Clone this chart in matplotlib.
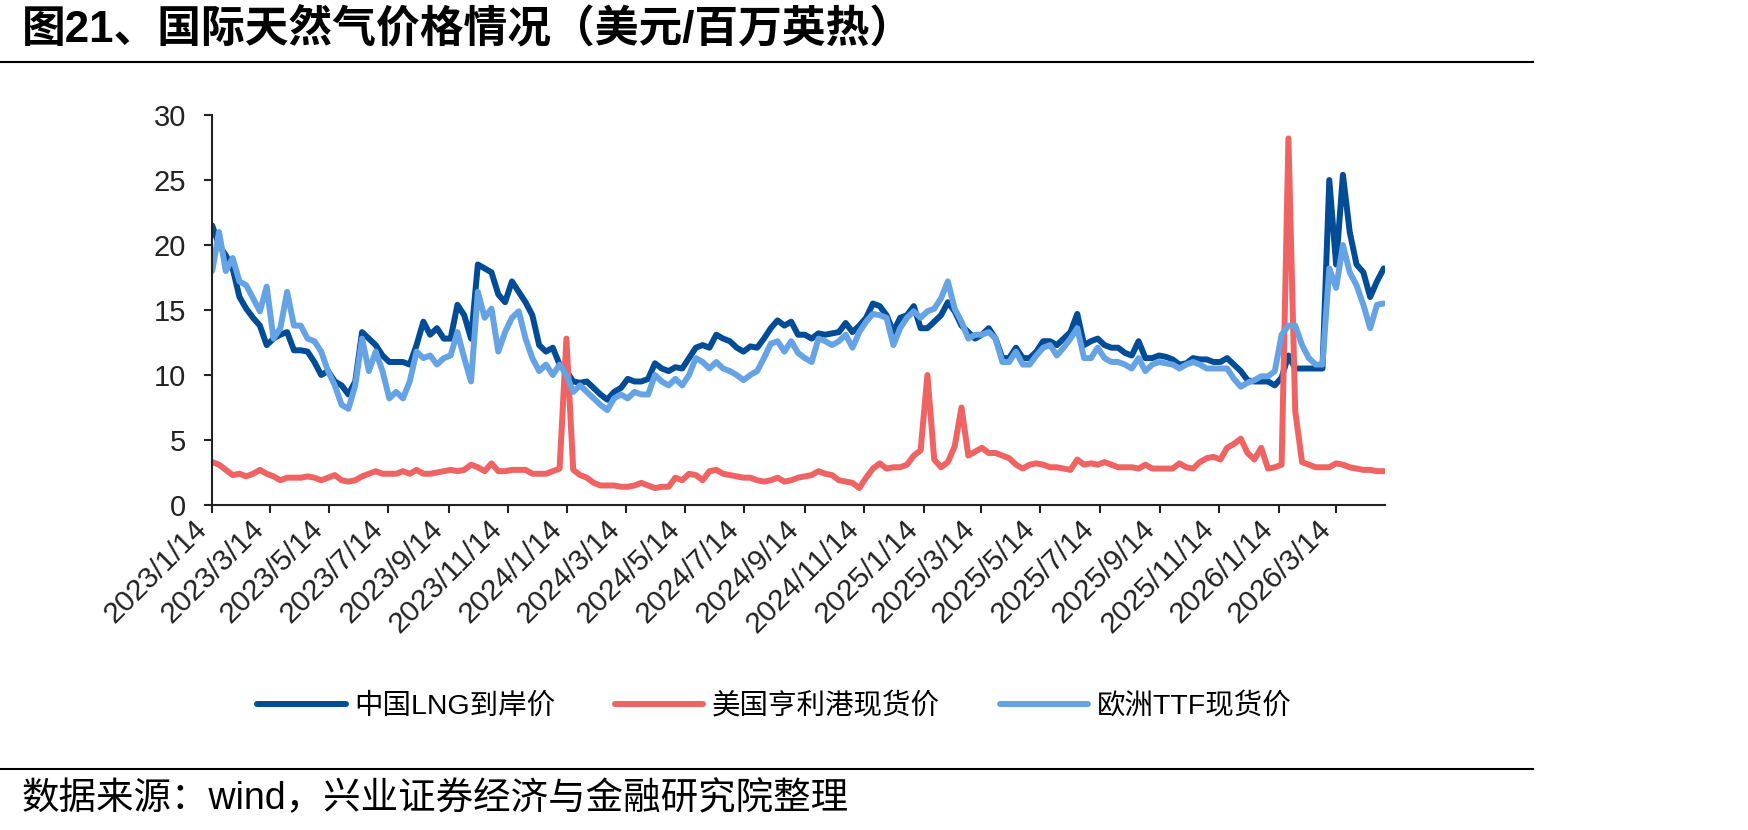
import matplotlib
matplotlib.use("Agg")
import matplotlib.pyplot as plt
import matplotlib.dates as mdates
from matplotlib.lines import Line2D
from matplotlib.ticker import FuncFormatter
import pandas as pd

plt.rcParams["font.family"] = ["Liberation Sans", "Noto Sans CJK SC"]

# weekly observations starting 2023/1/14
start_date = "2023-01-14"
n_weeks = 173

lng_china = [
    21.5, 20.0, 19.2, 18.2, 16.0, 15.1, 14.4, 13.8, 12.3, 12.8, 13.1, 13.3, 11.9, 11.9, 11.8, 11.0, 10.0, 10.3, 9.5, 9.2,
    8.5, 9.5, 13.3, 12.8, 12.3, 11.5, 11.0, 11.0, 11.0, 10.8, 12.3, 14.1, 13.1, 13.6, 12.8,
    12.8, 15.4, 14.6, 12.8, 18.5, 18.2, 17.9, 16.2, 15.6, 17.2, 16.4, 15.6, 14.6, 12.3, 11.8, 12.1, 10.8, 10.3, 9.5, 9.4,
    9.5, 9.0, 8.5, 8.1, 8.7, 9.0, 9.7, 9.5, 9.5, 9.7, 10.9, 10.5, 10.3, 10.6,
    10.5, 11.3, 12.1, 12.3, 12.1, 13.1, 12.8, 12.6, 12.1, 11.8, 12.2, 12.1, 12.8, 13.6, 14.2, 13.8, 14.1, 13.1, 13.1, 12.8,
    13.2, 13.1, 13.2, 13.3, 14.0, 13.3, 13.8, 14.4, 15.5, 15.3, 14.6, 13.3, 14.4, 14.6, 15.3,
    13.6, 13.6, 14.1, 14.6, 15.6, 14.9, 13.8, 13.3, 12.8, 13.1, 13.6, 12.8, 11.3, 11.3, 12.1, 11.3, 11.3, 11.8, 12.6, 12.6,
    12.3, 12.8, 13.3, 14.7, 12.3, 12.6, 12.8, 12.3, 12.1, 12.1, 11.7, 11.5, 12.6, 11.3,
    11.3, 11.5, 11.4, 11.2, 10.8, 10.9, 11.3, 11.2, 11.2, 11.0, 11.0, 11.3, 10.8, 10.3, 9.6, 9.5, 9.5, 9.5, 9.2, 9.8,
    11.5, 10.5, 10.5, 10.5, 10.5, 10.5, 25.0, 18.5, 25.4, 21.0, 18.5, 17.9, 16.0, 17.2, 18.2,
]

hh_us = [
    3.3, 3.1, 2.7, 2.3, 2.4, 2.2, 2.4, 2.7, 2.4, 2.2, 1.9, 2.1, 2.1, 2.1, 2.2, 2.1, 1.9, 2.1, 2.3, 1.9,
    1.8, 1.9, 2.2, 2.4, 2.6, 2.4, 2.4, 2.4, 2.6, 2.4, 2.7, 2.4, 2.4, 2.5, 2.6,
    2.7, 2.6, 2.7, 3.1, 2.9, 2.6, 3.2, 2.6, 2.6, 2.7, 2.7, 2.7, 2.4, 2.4, 2.4, 2.6, 2.8, 12.8, 2.7, 2.3,
    2.1, 1.7, 1.5, 1.5, 1.5, 1.4, 1.4, 1.5, 1.7, 1.5, 1.3, 1.4, 1.4, 2.1,
    1.9, 2.4, 2.3, 1.9, 2.6, 2.7, 2.4, 2.3, 2.2, 2.1, 2.1, 1.9, 1.8, 1.9, 2.1, 1.8, 1.9, 2.1, 2.2, 2.3,
    2.6, 2.4, 2.3, 1.9, 1.8, 1.7, 1.3, 2.1, 2.8, 3.2, 2.8, 2.9, 2.9, 3.1, 3.8,
    4.2, 10.0, 3.5, 2.9, 3.3, 4.5, 7.5, 3.8, 4.1, 4.4, 4.0, 4.0, 3.8, 3.6, 3.1, 2.8, 3.1, 3.2, 3.1, 2.9,
    2.9, 2.8, 2.7, 3.5, 3.1, 3.2, 3.1, 3.3, 3.1, 2.9, 2.9, 2.9, 2.8, 3.1,
    2.8, 2.8, 2.8, 2.8, 3.2, 2.9, 2.8, 3.3, 3.6, 3.7, 3.5, 4.4, 4.7, 5.1, 4.0, 3.5, 4.4, 2.8, 2.9, 3.1,
    28.2, 7.2, 3.3, 3.1, 2.9, 2.9, 2.9, 3.2, 3.1, 2.9, 2.8, 2.7, 2.7, 2.6, 2.6,
]

ttf_eu = [
    18.0, 21.0, 18.0, 19.0, 17.2, 16.9, 15.9, 14.9, 16.8, 12.8, 13.6, 16.4, 13.8, 13.8, 12.8, 12.6, 11.8, 10.3, 9.2, 7.7,
    7.4, 9.2, 12.8, 10.3, 11.8, 10.3, 8.2, 8.7, 8.2, 9.5, 11.8, 11.3, 11.5, 10.8, 11.3,
    11.5, 13.3, 11.3, 9.5, 16.4, 14.4, 15.1, 11.8, 13.3, 14.4, 14.9, 12.8, 11.3, 10.3, 10.8, 10.0, 10.8, 10.0, 8.7, 9.2,
    8.7, 8.2, 7.7, 7.3, 8.2, 8.5, 8.2, 8.7, 8.5, 8.5, 10.0, 9.5, 9.2, 9.7,
    9.2, 10.0, 11.3, 11.0, 10.5, 11.0, 10.5, 10.3, 10.0, 9.6, 10.0, 10.3, 11.3, 12.4, 12.6, 11.8, 12.6, 11.7, 11.3, 11.0,
    12.8, 12.6, 12.3, 12.6, 13.1, 12.1, 13.3, 14.1, 14.7, 14.6, 14.4, 12.3, 13.6, 14.4, 14.9,
    14.4, 14.9, 15.1, 15.9, 17.2, 15.1, 14.1, 12.8, 13.1, 13.1, 13.3, 12.8, 11.0, 11.0, 11.8, 10.8, 10.8, 11.5, 12.1, 12.3,
    11.5, 12.1, 12.8, 13.6, 11.3, 11.3, 12.1, 11.3, 11.0, 11.0, 10.8, 10.5, 11.3, 10.3,
    10.8, 11.0, 10.9, 10.8, 10.5, 10.8, 11.0, 10.8, 10.5, 10.5, 10.5, 10.5, 9.7, 9.1, 9.4, 9.6, 9.9, 9.9, 10.3, 13.1,
    13.8, 13.8, 12.3, 11.3, 10.8, 10.8, 18.2, 16.7, 20.0, 17.9, 16.9, 15.4, 13.6, 15.4, 15.5,
]

series_names = ["中国LNG到岸价", "美国亨利港现货价", "欧洲TTF现货价"]
series_colors = ["#004C97", "#EF6363", "#66A3E5"]

dates = pd.date_range(start_date, periods=n_weeks, freq="7D")

fig = plt.figure(figsize=(17.48, 8.30), dpi=100)
ax = fig.add_axes([0.1214, 0.3916, 0.6708, 0.4698])

for vals, name, col in zip([lng_china, hh_us, ttf_eu], series_names, series_colors):
    ax.plot(dates, vals, color=col, linewidth=4.3, label=name,
            solid_joinstyle="round", solid_capstyle="round")

ax.set_ylim(0, 30)
ax.set_yticks(range(0, 31, 5))
ax.set_xlim(pd.Timestamp(start_date), pd.Timestamp("2026-05-03"))
ax.xaxis.set_major_locator(mdates.MonthLocator(bymonth=[1, 3, 5, 7, 9, 11], bymonthday=14))
ax.xaxis.set_major_formatter(FuncFormatter(
    lambda v, pos: (lambda d: f"{d.year}/{d.month}/{d.day}")(mdates.num2date(v))))

for side in ("top", "right"):
    ax.spines[side].set_visible(False)
for side in ("left", "bottom"):
    ax.spines[side].set_linewidth(1.5)
    ax.spines[side].set_color("#222222")

ax.tick_params(axis="y", labelsize=21, length=6, width=1.5, pad=13, colors="#222222")
ax.tick_params(axis="x", labelsize=21.5, length=6, width=1.5, pad=1, colors="#222222")
for lbl in ax.get_xticklabels():
    lbl.set_rotation(45)
    lbl.set_ha("right")

fig.legend(loc="center", bbox_to_anchor=(0.443, 0.149), ncol=3, frameon=False,
           fontsize=20.5, handlelength=3.1, handletextpad=0.3, columnspacing=2.1)

fig.text(0.0126, 0.964, "图21、国际天然气价格情况（美元/百万英热）", fontsize=31.5,
         fontweight="bold", va="center", ha="left")
fig.text(0.0126, 0.0373, "数据来源：wind，兴业证券经济与金融研究院整理", fontsize=27,
         va="center", ha="left")
fig.add_artist(Line2D([0, 0.877], [1 - 62 / 830] * 2, color="black", linewidth=1.5))
fig.add_artist(Line2D([0, 0.877], [1 - 769 / 830] * 2, color="black", linewidth=1.5))

fig.savefig("out.png", dpi=100)
